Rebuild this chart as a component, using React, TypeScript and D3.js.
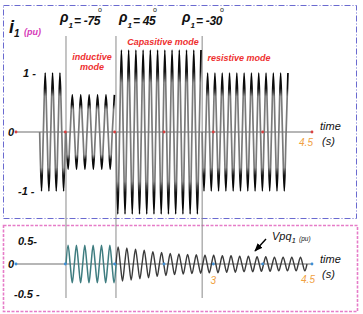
import React from "react"
import * as d3 from "d3"

// ---------- Data ----------
const timeTicks = [0, 0.75, 1.5, 2.25, 3, 3.75, 4.5]
const modeChanges = [0.76, 1.52, 2.83]

// i1 segments (constant amplitude per mode)
const iStart = [0.36, 0.76, 1.52, 2.83]
const iEnd = [0.76, 1.52, 2.83, 4.16]
const iAmp = [1.0, 0.63, 1.39, 1.0]
const iPeriod = [0.112, 0.128, 0.11, 0.111]

// Vpq1: one amplitude per cycle
const vpqStart = [0.76, 1.52]
const vpqPeriod = [0.127, 0.132]
const vpqTealAmps = [0.41, 0.41, 0.41, 0.41, 0.41, 0.41]
const vpqDecayAmps = [0.37, 0.35, 0.32, 0.3, 0.27, 0.25, 0.23, 0.22, 0.21, 0.2, 0.19,
    0.19, 0.18, 0.18, 0.17, 0.17, 0.16, 0.16, 0.15, 0.15, 0.15, 0.15]

const topTicks = [1, 0, -1]
const topTickText = ["1 -", "0", "-1 -"]
const lowTicks = [0.5, 0, -0.5]
const lowTickText = ["0.5-", "0", "-0.5 -"]

const rhoValues = ["-75", "45", "-30"]
const rhoX = [60, 119, 182]

// ---------- Helpers ----------
const quarter = [0, 1, 0, -1]

// points at quarter periods, constant amplitude, from t0 to t1
const wavePoints = (t0: number, t1: number, amp: number, period: number, q0: number) => {
    const pts: [number, number][] = []
    let q = q0
    for (let t = t0; t <= t1 + 1e-6; t += period / 4) {
        pts.push([t, amp * quarter[q % 4]])
        q++
    }
    return pts
}

// points per cycle, amplitude from list
const cyclePoints = (t0: number, amps: number[], period: number) => {
    const pts: [number, number][] = []
    amps.forEach((a, i) => {
        for (let q = 0; q < 4; q++) pts.push([t0 + (i + q / 4) * period, a * quarter[q]])
    })
    pts.push([t0 + amps.length * period, 0])
    return pts
}

const W = 363
const H = 314
const font = "'Liberation Sans', Arial, sans-serif"

export default function App() {
    const x = d3.scaleLinear().domain([0, 4.5]).range([16, 312])
    const yTop = d3.scaleLinear().domain([-1, 1]).range([191, 73])
    const yLow = d3.scaleLinear().domain([-0.5, 0.5]).range([287, 241])

    const lineTop = d3.line<[number, number]>().x(d => x(d[0])).y(d => yTop(d[1])).curve(d3.curveMonotoneX)
    const lineLow = d3.line<[number, number]>().x(d => x(d[0])).y(d => yLow(d[1])).curve(d3.curveMonotoneX)

    const iSegs = iStart.map((s, i) => ({
        amp: iAmp[i],
        d: lineTop(wavePoints(s, iEnd[i], iAmp[i], iPeriod[i], 2)) || ""
    }))

    const tealPath = lineLow(cyclePoints(vpqStart[0], vpqTealAmps, vpqPeriod[0])) || ""
    const decayPath = lineLow(cyclePoints(vpqStart[1], vpqDecayAmps, vpqPeriod[1])) || ""

    return (
        <svg width={W} height={H} style={{ position: "absolute", left: 0, top: 0, background: "#fff" }}
            fontFamily={font}>
            <defs>
                {iSegs.map((s, i) => (
                    <linearGradient key={i} id={`g${i}`} gradientUnits="userSpaceOnUse"
                        x1={0} x2={0} y1={yTop(s.amp)} y2={yTop(-s.amp)}>
                        <stop offset="0" stopColor="#000" />
                        <stop offset="0.13" stopColor="#111" />
                        <stop offset="0.2" stopColor="#7a7a7a" />
                        <stop offset="0.8" stopColor="#7a7a7a" />
                        <stop offset="0.87" stopColor="#111" />
                        <stop offset="1" stopColor="#000" />
                    </linearGradient>
                ))}
                <marker id="arr" viewBox="0 0 10 10" refX={9} refY={5} markerWidth={6} markerHeight={6} orient="auto">
                    <path d="M0,1 L10,5 L0,9 Z" fill="#000" />
                </marker>
            </defs>

            {/* panel frames */}
            <rect x={3.5} y={5.5} width={353} height={213} fill="none" stroke="#6a6ad0"
                strokeWidth={1} strokeDasharray="6 2 1 2" />
            <rect x={3.5} y={225.5} width={354} height={86} fill="none" stroke="#e67cc8"
                strokeWidth={1.6} strokeDasharray="3 1.5" />

            {/* zero axes */}
            <line x1={x(0)} x2={x(4.5)} y1={yTop(0)} y2={yTop(0)} stroke="#6f6f6f" strokeWidth={1.2} />
            <line x1={x(0)} x2={x(4.5)} y1={yLow(0)} y2={yLow(0)} stroke="#6f6f6f" strokeWidth={1.2} />

            {/* mode change lines */}
            {modeChanges.map((t, i) => (
                <line key={i} x1={x(t)} x2={x(t)} y1={36} y2={298} stroke="#8a8a8a" strokeWidth={1} />
            ))}

            {/* i1 waveform */}
            {iSegs.map((s, i) => (
                <path key={i} d={s.d} fill="none" stroke={`url(#g${i})`} strokeWidth={1.7} />
            ))}

            {/* Vpq1 waveform */}
            <path d={decayPath} fill="none" stroke="#3a3a3a" strokeWidth={1.4} />
            <path d={tealPath} fill="none" stroke="#3f7d80" strokeWidth={1.5} />

            {/* axis dots */}
            {timeTicks.map((t, i) => (
                <circle key={"r" + i} cx={x(t)} cy={yTop(0)} r={1.4} fill="#d94040" />
            ))}
            {timeTicks.map((t, i) => (
                <circle key={"b" + i} cx={x(t)} cy={yLow(0)} r={1.4} fill="#3d8fd6" />
            ))}

            {/* y tick labels */}
            <g fontSize={11} fontWeight="bold" fontStyle="italic" fill="#111">
                {topTicks.map((v, i) => (
                    <text key={i} x={v === 0 ? 8 : v > 0 ? 23 : 18} y={yTop(v) + 4}>{topTickText[i]}</text>
                ))}
                {lowTicks.map((v, i) => (
                    <text key={i} x={v === 0 ? 8 : v > 0 ? 18 : 14} y={yLow(v) + 4 + (v < 0 ? 7 : 0)}>{lowTickText[i]}</text>
                ))}
            </g>

            {/* i1 (pu) */}
            <text x={9} y={33} fontSize={18} fontWeight="bold" fontStyle="italic" fill="#111">
                i<tspan fontSize={10} dy={4}>1</tspan>
            </text>
            <text x={24} y={35} fontSize={9} fontStyle="italic" fill="#d63ab8" fontWeight="bold">(pu)</text>

            {/* rho labels */}
            {rhoValues.map((v, i) => (
                <g key={i} fontWeight="bold" fontStyle="italic" fill="#111">
                    <text x={rhoX[i]} y={22} fontSize={14}>
                        ρ<tspan fontSize={8} dy={6}>1</tspan>
                        <tspan fontSize={12} dx={1} dy={-3} letterSpacing={-0.3}>{"= " + v}</tspan>
                    </text>
                    <text x={rhoX[i] + (v.length === 3 ? 38 : 34)} y={12} fontSize={7} fontWeight="normal" fontStyle="normal">o</text>
                </g>
            ))}

            {/* mode labels */}
            <g fill="#ee3030" fontWeight="bold" fontStyle="italic" fontSize={9} textAnchor="middle">
                <text x={92} y={60}>inductive</text>
                <text x={92} y={70}>mode</text>
                <text x={163} y={45}>Capasitive mode</text>
                <text x={239} y={61}>resistive mode</text>
            </g>

            {/* time labels */}
            <g fontStyle="italic" fontSize={11} fill="#111">
                <text x={320} y={130}>time</text>
                <text x={322} y={145}>(s)</text>
                <text x={320} y={263}>time</text>
                <text x={322} y={278}>(s)</text>
            </g>
            <g fontStyle="italic" fontSize={10} fill="#f0a040" textAnchor="middle">
                <text x={x(4.5) - 6} y={146}>4.5</text>
                <text x={x(4.5) - 4} y={283}>4.5</text>
                <text x={x(3)} y={284}>3</text>
            </g>

            {/* Vpq1 label */}
            <text x={272} y={240} fontSize={11} fontStyle="italic" fill="#111">
                Vpq<tspan fontSize={8} dy={3}>1</tspan>
            </text>
            <text x={299} y={241} fontSize={6.5} fontStyle="italic" fill="#111">(pu)</text>
            <line x1={266} y1={239} x2={255} y2={251} stroke="#000" strokeWidth={1.4} markerEnd="url(#arr)" />
        </svg>
    )
}
